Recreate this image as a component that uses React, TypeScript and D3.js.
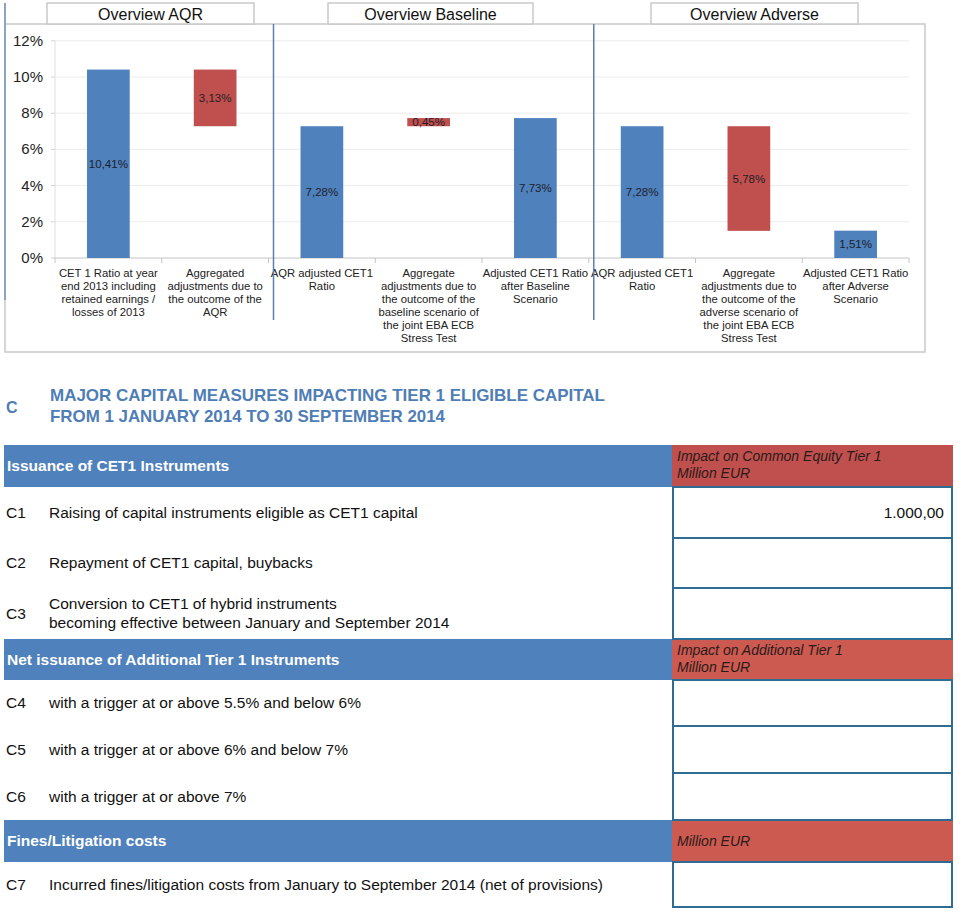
import { useEffect } from "react";
import * as d3 from "d3";

// chart data
const categoryLines: string[][] = [
  ["CET 1 Ratio at year", "end 2013 including", "retained earnings /", "losses of 2013"],
  ["Aggregated", "adjustments due to", "the outcome of the", "AQR"],
  ["AQR adjusted CET1", "Ratio"],
  ["Aggregate", "adjustments due to", "the outcome of the", "baseline scenario of", "the joint EBA ECB", "Stress Test"],
  ["Adjusted CET1 Ratio", "after Baseline", "Scenario"],
  ["AQR adjusted CET1", "Ratio"],
  ["Aggregate", "adjustments due to", "the outcome of the", "adverse scenario of", "the joint EBA ECB", "Stress Test"],
  ["Adjusted CET1 Ratio", "after Adverse", "Scenario"],
];
const ratioValues = [10.41, -3.13, 7.28, 0.45, 7.73, 7.28, -5.78, 1.51];
const barKinds = ["total", "delta", "total", "delta", "total", "total", "delta", "total"];
const yTicks = [0, 2, 4, 6, 8, 10, 12];
const groupTitles = ["Overview AQR", "Overview Baseline", "Overview Adverse"];

// table data
const sectionLetter = "C";
const sectionTitle = [
  "MAJOR CAPITAL MEASURES IMPACTING TIER 1 ELIGIBLE CAPITAL",
  "FROM 1 JANUARY 2014 TO 30 SEPTEMBER 2014",
];
const bandTitles = [
  "Issuance of CET1 Instruments",
  "Net issuance of Additional Tier 1 Instruments",
  "Fines/Litigation costs",
];
const bandUnits = [
  ["Impact on Common Equity Tier 1", "Million EUR"],
  ["Impact on Additional Tier 1", "Million EUR"],
  ["Million EUR"],
];
const rowCodes = ["C1", "C2", "C3", "C4", "C5", "C6", "C7"];
const rowTexts: string[][] = [
  ["Raising of capital instruments eligible as CET1 capital"],
  ["Repayment of CET1 capital, buybacks"],
  ["Conversion to CET1 of hybrid instruments", "becoming effective between January and September 2014"],
  ["with a trigger at or above 5.5% and below 6%"],
  ["with a trigger at or above 6% and below 7%"],
  ["with a trigger at or above 7%"],
  ["Incurred fines/litigation costs from January to September 2014 (net of provisions)"],
];
const rowValues = ["1.000,00", "", "", "", "", "", ""];

const BLUE = "#4f81bd";
const RED = "#c0504d";
const RED2 = "#cd5a51";
const FONT = "'Liberation Sans', Arial, sans-serif";

function fmt(v: number) {
  return Math.abs(v).toFixed(2).replace(".", ",") + "%";
}

export default function App() {
  useEffect(() => {
    document.body.style.margin = "0";
  }, []);

  const width = 960;
  const height = 914;

  const x = d3
    .scaleBand<number>()
    .domain(d3.range(categoryLines.length))
    .range([55, 909])
    .paddingInner(0.6)
    .paddingOuter(0.3);
  const step = x.step();
  const catStart = (i: number) => 55 + i * step;
  const y = d3.scaleLinear().domain([0, 12]).range([258, 40.8]);

  // waterfall spans
  let running = 0;
  const bars = ratioValues.map((v, i) => {
    if (barKinds[i] === "total") {
      running = v;
      return { i, lo: 0, hi: v, kind: "total", v };
    }
    const start = running;
    running = start + v;
    return { i, lo: Math.min(start, running), hi: Math.max(start, running), kind: "delta", v };
  });

  const headerBoxes = [
    { x: 47, w: 207 },
    { x: 328, w: 205 },
    { x: 651, w: 207 },
  ];
  const separators = [2, 5];

  // table layout
  const tLeft = 4;
  const tSplit = 672;
  const tRight = 953;
  const bands = [
    { top: 445, bottom: 487 },
    { top: 639, bottom: 680 },
    { top: 820, bottom: 862 },
  ];
  const rows = [
    { top: 487, bottom: 538 },
    { top: 538, bottom: 588 },
    { top: 588, bottom: 639 },
    { top: 680, bottom: 726 },
    { top: 726, bottom: 773 },
    { top: 773, bottom: 820 },
    { top: 862, bottom: 907 },
  ];

  return (
    <svg width={width} height={height} style={{ display: "block", fontFamily: FONT }}>
      <rect width={width} height={height} fill="#fff" />

      {/* chart frame */}
      <rect x={5} y={24} width={920} height={328} fill="none" stroke="#c9c9c9" strokeWidth={1.5} />
      <line x1={5} x2={5} y1={3} y2={300} stroke="#8ea3c0" strokeWidth={2} />

      {headerBoxes.map((b, i) => (
        <g key={i}>
          <rect x={b.x} y={3} width={b.w} height={21} fill="#fff" stroke="#c9c9c9" strokeWidth={1.5} />
          <text x={b.x + b.w / 2} y={20} textAnchor="middle" fontSize={16} fill="#111">
            {groupTitles[i]}
          </text>
        </g>
      ))}

      {/* gridlines & y axis */}
      {yTicks.map((t) => (
        <g key={t}>
          {t > 0 && <line x1={55} x2={909} y1={y(t)} y2={y(t)} stroke="#ececec" />}
          <line x1={51} x2={55} y1={y(t)} y2={y(t)} stroke="#d0d0d0" />
          <text x={43} y={y(t) + 5} textAnchor="end" fontSize={15} fill="#222">
            {t}%
          </text>
        </g>
      ))}
      <line x1={55} x2={55} y1={y(12)} y2={y(0)} stroke="#e0e0e0" />
      <line x1={55} x2={909} y1={y(0)} y2={y(0)} stroke="#c4c4c4" />
      {d3.range(categoryLines.length + 1).map((i) => (
        <line key={i} x1={catStart(i)} x2={catStart(i)} y1={y(0)} y2={y(0) + 5} stroke="#c4c4c4" />
      ))}

      {/* bars */}
      {bars.map((b) => (
        <g key={b.i}>
          <rect
            x={x(b.i)}
            y={y(b.hi)}
            width={x.bandwidth()}
            height={y(b.lo) - y(b.hi)}
            fill={b.kind === "total" ? BLUE : RED}
          />
          <text
            x={(x(b.i) ?? 0) + x.bandwidth() / 2}
            y={(y(b.hi) + y(b.lo)) / 2 + 4}
            textAnchor="middle"
            fontSize={11.5}
            fill="#1e1e2a"
          >
            {fmt(b.v)}
          </text>
        </g>
      ))}

      {/* category labels */}
      {categoryLines.map((lines, i) => (
        <text key={i} textAnchor="middle" fontSize={11.3} fill="#222">
          {lines.map((l, j) => (
            <tspan key={j} x={catStart(i) + step / 2} y={277 + j * 13}>
              {l}
            </tspan>
          ))}
        </text>
      ))}

      {/* group separators */}
      {separators.map((s) => (
        <line key={s} x1={catStart(s) + 5} x2={catStart(s) + 5} y1={24} y2={320} stroke="#5b7fb0" strokeWidth={1.5} />
      ))}

      {/* section title */}
      <text x={6} y={413} fontSize={16} fontWeight="bold" fill="#4f7db5">
        {sectionLetter}
      </text>
      {sectionTitle.map((t, i) => (
        <text
          key={i}
          x={50}
          y={401 + i * 21}
          fontSize={17}
          fontWeight="bold"
          fill="#4f7db5"
          textLength={i === 0 ? 555 : 395}
          lengthAdjust="spacingAndGlyphs"
        >
          {t}
        </text>
      ))}

      {/* bands */}
      {bands.map((b, i) => (
        <g key={i}>
          <rect x={tLeft} y={b.top} width={tSplit - tLeft} height={b.bottom - b.top} fill={BLUE} />
          <rect x={tSplit} y={b.top} width={tRight - tSplit} height={b.bottom - b.top} fill={i === 0 ? RED : RED2} />
          <text x={7} y={(b.top + b.bottom) / 2 + 5} fontSize={15.5} fontWeight="bold" fill="#fff">
            {bandTitles[i]}
          </text>
          {bandUnits[i].map((u, j) => (
            <text
              key={j}
              x={677}
              y={
                bandUnits[i].length === 1
                  ? (b.top + b.bottom) / 2 + 5
                  : b.top + 16 + j * 17
              }
              fontSize={14}
              fontStyle="italic"
              fill="#2a1a1a"
            >
              {u}
            </text>
          ))}
        </g>
      ))}

      {/* rows */}
      {rows.map((r, i) => {
        const mid = (r.top + r.bottom) / 2;
        const lines = rowTexts[i];
        return (
          <g key={i}>
            <rect
              x={tSplit + 1}
              y={r.top}
              width={tRight - tSplit - 2}
              height={r.bottom - r.top}
              fill="#fff"
              stroke="#2f6c93"
              strokeWidth={2}
            />
            <text x={6} y={mid + 5} fontSize={15.5} fill="#111">
              {rowCodes[i]}
            </text>
            {lines.map((l, j) => (
              <text key={j} x={49} y={mid + 5 + (j - (lines.length - 1) / 2) * 19.5} fontSize={15.5} fill="#111">
                {l}
              </text>
            ))}
            {rowValues[i] && (
              <text x={944} y={mid + 5} textAnchor="end" fontSize={15.5} fill="#111">
                {rowValues[i]}
              </text>
            )}
          </g>
        );
      })}
    </svg>
  );
}
